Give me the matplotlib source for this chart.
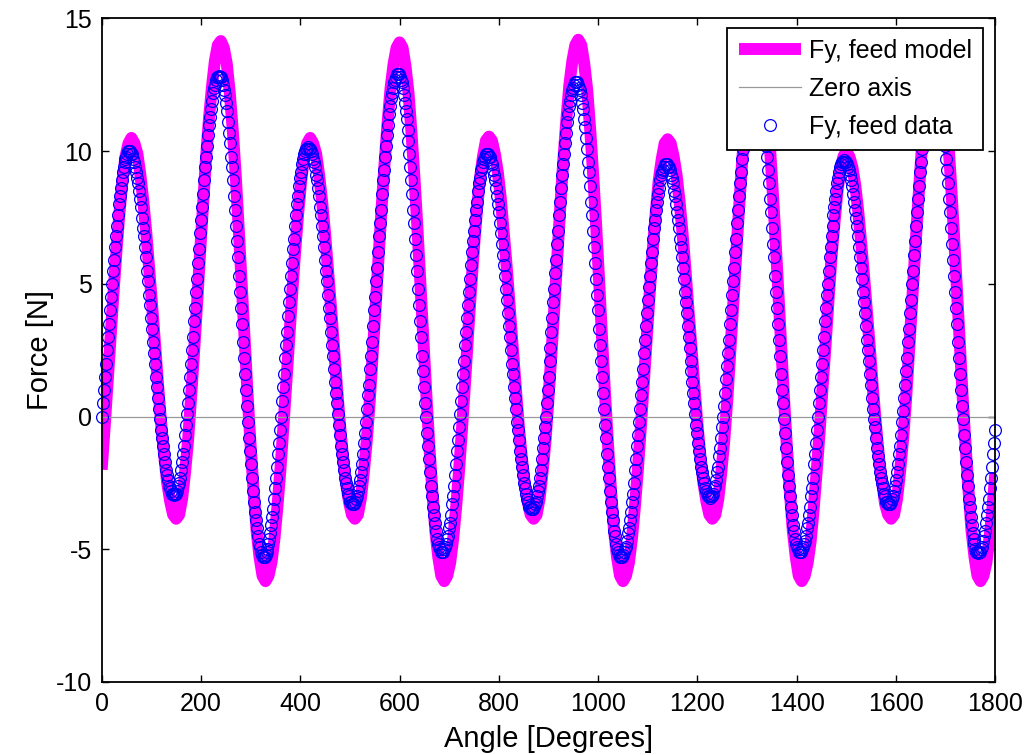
import numpy as np
import matplotlib
matplotlib.use("Agg")
import matplotlib.pyplot as plt

plt.rcParams["font.family"] = ["Liberation Sans", "DejaVu Sans"]
plt.rcParams["axes.unicode_minus"] = False

# Measured force data, one sample every 2 degrees (0 .. 1800)
data_angle = np.arange(0, 1801, 2)
data_force = [
    0.0, 0.5, 1.0, 1.5, 2.0, 2.5, 3.0, 3.5, 4.0, 4.5, 5.0, 5.5, 5.9, 6.4, 6.8, 7.2, 7.6, 8.0, 8.3, 8.6, 8.9, 9.2, 9.4, 9.6, 9.7, 9.8, 9.9, 10.0, 10.0,
    10.0, 9.9, 9.9, 9.7, 9.6, 9.4, 9.2, 9.0, 8.8, 8.5, 8.2, 7.9, 7.5, 7.1, 6.8, 6.4, 6.0, 5.5, 5.1, 4.6, 4.2, 3.7, 3.3, 2.8, 2.4, 2.0, 1.5, 1.1, 0.7, 0.3, -0.1, -0.5, -0.8, -1.1, -1.4, -1.7, -2.0, -2.2, -2.4, -2.6, -2.7, -2.8, -2.9, -2.9, -2.95,
    -2.9, -2.9, -2.8, -2.6, -2.5, -2.3, -2.0, -1.7, -1.4, -1.1, -0.7, -0.3, 0.1, 0.5, 1.0, 1.5, 2.0, 2.5, 3.0, 3.6, 4.1, 4.7, 5.2, 5.8, 6.3, 6.9, 7.4, 7.9, 8.4, 8.9, 9.4, 9.8, 10.2, 10.6, 11.0, 11.3, 11.6, 11.9, 12.2, 12.4, 12.5, 12.7, 12.8, 12.8, 12.85,
    12.8, 12.8, 12.7, 12.5, 12.3, 12.1, 11.8, 11.5, 11.1, 10.7, 10.3, 9.8, 9.4, 8.9, 8.3, 7.8, 7.2, 6.6, 6.0, 5.3, 4.7, 4.1, 3.5, 2.8, 2.2, 1.6, 1.0, 0.4, -0.2, -0.8, -1.3, -1.8, -2.3, -2.8, -3.2, -3.6, -3.9, -4.2, -4.5, -4.8, -4.9, -5.1, -5.2, -5.3, -5.3,
    -5.3, -5.2, -5.1, -5.0, -4.8, -4.6, -4.4, -4.1, -3.8, -3.5, -3.1, -2.7, -2.3, -1.9, -1.4, -1.0, -0.5, 0.0, 0.6, 1.1, 1.6, 2.2, 2.7, 3.2, 3.8, 4.3, 4.8, 5.3, 5.8, 6.3, 6.7, 7.2, 7.6, 8.0, 8.3, 8.7, 9.0, 9.2, 9.5, 9.7, 9.9, 10.0, 10.1, 10.1, 10.15,
    10.1, 10.1, 10.0, 9.9, 9.7, 9.6, 9.4, 9.1, 8.9, 8.6, 8.3, 7.9, 7.6, 7.2, 6.8, 6.4, 5.9, 5.5, 5.1, 4.6, 4.1, 3.7, 3.2, 2.7, 2.3, 1.8, 1.3, 0.9, 0.5, 0.1, -0.3, -0.7, -1.1, -1.4, -1.7, -2.0, -2.3, -2.5, -2.7, -2.9, -3.0, -3.2, -3.2, -3.3, -3.3,
    -3.3, -3.2, -3.1, -3.0, -2.8, -2.6, -2.4, -2.1, -1.8, -1.4, -1.0, -0.6, -0.2, 0.3, 0.8, 1.2, 1.8, 2.3, 2.8, 3.4, 4.0, 4.5, 5.1, 5.6, 6.2, 6.8, 7.3, 7.8, 8.4, 8.9, 9.3, 9.8, 10.2, 10.6, 11.0, 11.4, 11.7, 12.0, 12.2, 12.4, 12.6, 12.7, 12.8, 12.9, 12.9,
    12.9, 12.8, 12.7, 12.6, 12.4, 12.1, 11.8, 11.5, 11.2, 10.8, 10.4, 9.9, 9.4, 8.9, 8.4, 7.8, 7.3, 6.7, 6.1, 5.5, 4.8, 4.2, 3.6, 3.0, 2.3, 1.7, 1.1, 0.5, 0.0, -0.6, -1.1, -1.6, -2.1, -2.6, -3.0, -3.4, -3.7, -4.0, -4.3, -4.6, -4.8, -4.9, -5.0, -5.1, -5.1,
    -5.1, -5.0, -4.9, -4.8, -4.6, -4.5, -4.2, -4.0, -3.7, -3.3, -3.0, -2.6, -2.2, -1.8, -1.3, -0.9, -0.4, 0.1, 0.6, 1.1, 1.6, 2.1, 2.7, 3.2, 3.7, 4.2, 4.7, 5.2, 5.7, 6.2, 6.6, 7.0, 7.4, 7.8, 8.1, 8.5, 8.8, 9.0, 9.3, 9.4, 9.6, 9.7, 9.8, 9.9, 9.9,
    9.9, 9.8, 9.8, 9.6, 9.5, 9.3, 9.1, 8.9, 8.6, 8.3, 8.0, 7.7, 7.3, 6.9, 6.5, 6.1, 5.7, 5.3, 4.8, 4.4, 3.9, 3.4, 3.0, 2.5, 2.0, 1.6, 1.1, 0.7, 0.3, -0.2, -0.5, -0.9, -1.3, -1.6, -1.9, -2.2, -2.5, -2.7, -2.9, -3.1, -3.2, -3.4, -3.4, -3.5, -3.5,
    -3.5, -3.4, -3.3, -3.2, -3.0, -2.8, -2.6, -2.3, -2.0, -1.6, -1.2, -0.8, -0.4, 0.0, 0.5, 1.0, 1.5, 2.1, 2.6, 3.2, 3.7, 4.3, 4.8, 5.4, 5.9, 6.5, 7.0, 7.6, 8.1, 8.6, 9.1, 9.5, 9.9, 10.3, 10.7, 11.1, 11.4, 11.7, 11.9, 12.1, 12.3, 12.4, 12.5, 12.6, 12.6,
    12.6, 12.5, 12.4, 12.3, 12.1, 11.8, 11.6, 11.2, 10.9, 10.5, 10.1, 9.6, 9.2, 8.7, 8.1, 7.6, 7.0, 6.4, 5.8, 5.2, 4.6, 4.0, 3.3, 2.7, 2.1, 1.5, 0.9, 0.3, -0.3, -0.8, -1.4, -1.9, -2.3, -2.8, -3.2, -3.6, -3.9, -4.3, -4.5, -4.8, -5.0, -5.1, -5.2, -5.3, -5.3,
    -5.3, -5.2, -5.1, -5.0, -4.9, -4.7, -4.4, -4.2, -3.9, -3.6, -3.2, -2.9, -2.5, -2.0, -1.6, -1.1, -0.7, -0.2, 0.3, 0.8, 1.3, 1.8, 2.4, 2.9, 3.4, 3.9, 4.4, 4.9, 5.3, 5.8, 6.2, 6.7, 7.1, 7.4, 7.8, 8.1, 8.4, 8.6, 8.9, 9.1, 9.2, 9.3, 9.4, 9.5, 9.5,
    9.5, 9.4, 9.4, 9.3, 9.1, 9.0, 8.8, 8.5, 8.3, 8.0, 7.7, 7.4, 7.1, 6.7, 6.4, 6.0, 5.6, 5.2, 4.7, 4.3, 3.9, 3.4, 3.0, 2.6, 2.1, 1.7, 1.3, 0.9, 0.5, 0.1, -0.3, -0.6, -1.0, -1.3, -1.6, -1.9, -2.1, -2.3, -2.5, -2.7, -2.8, -2.9, -3.0, -3.0, -3.05,
    -3.0, -3.0, -2.9, -2.7, -2.6, -2.4, -2.1, -1.9, -1.5, -1.2, -0.8, -0.4, 0.0, 0.4, 0.9, 1.4, 1.9, 2.4, 2.9, 3.5, 4.0, 4.6, 5.1, 5.6, 6.2, 6.7, 7.3, 7.8, 8.3, 8.8, 9.2, 9.7, 10.1, 10.5, 10.9, 11.2, 11.5, 11.8, 12.0, 12.2, 12.4, 12.5, 12.6, 12.7, 12.7,
    12.7, 12.6, 12.5, 12.4, 12.2, 11.9, 11.7, 11.3, 11.0, 10.6, 10.2, 9.8, 9.3, 8.8, 8.2, 7.7, 7.1, 6.5, 6.0, 5.3, 4.7, 4.1, 3.5, 2.9, 2.3, 1.6, 1.0, 0.5, -0.1, -0.6, -1.2, -1.7, -2.2, -2.6, -3.0, -3.4, -3.7, -4.1, -4.3, -4.6, -4.8, -4.9, -5.0, -5.1, -5.1,
    -5.1, -5.0, -4.9, -4.8, -4.7, -4.5, -4.2, -4.0, -3.7, -3.4, -3.0, -2.7, -2.3, -1.8, -1.4, -1.0, -0.5, 0.0, 0.5, 1.0, 1.5, 2.0, 2.5, 3.0, 3.6, 4.1, 4.6, 5.0, 5.5, 6.0, 6.4, 6.8, 7.2, 7.6, 7.9, 8.2, 8.5, 8.8, 9.0, 9.2, 9.4, 9.5, 9.6, 9.6, 9.65,
    9.6, 9.6, 9.5, 9.4, 9.3, 9.1, 8.9, 8.7, 8.4, 8.1, 7.8, 7.5, 7.2, 6.8, 6.4, 6.0, 5.6, 5.2, 4.7, 4.3, 3.9, 3.4, 2.9, 2.5, 2.1, 1.6, 1.2, 0.7, 0.3, -0.1, -0.4, -0.8, -1.2, -1.5, -1.8, -2.1, -2.3, -2.5, -2.7, -2.9, -3.0, -3.2, -3.2, -3.3, -3.3,
    -3.3, -3.2, -3.1, -3.0, -2.8, -2.6, -2.4, -2.1, -1.8, -1.4, -1.1, -0.7, -0.2, 0.2, 0.7, 1.2, 1.7, 2.2, 2.8, 3.3, 3.9, 4.4, 5.0, 5.5, 6.1, 6.6, 7.2, 7.7, 8.2, 8.7, 9.2, 9.6, 10.1, 10.5, 10.8, 11.2, 11.5, 11.8, 12.0, 12.2, 12.4, 12.5, 12.6, 12.7, 12.7,
    12.7, 12.6, 12.5, 12.4, 12.2, 11.9, 11.7, 11.3, 11.0, 10.6, 10.2, 9.7, 9.3, 8.8, 8.2, 7.7, 7.1, 6.5, 5.9, 5.3, 4.7, 4.1, 3.5, 2.8, 2.2, 1.6, 1.0, 0.4, -0.1, -0.7, -1.2, -1.7, -2.2, -2.6, -3.1, -3.4, -3.8, -4.1, -4.4, -4.6, -4.8, -5.0, -5.1, -5.1, -5.15,
    -5.1, -5.1, -5.0, -4.9, -4.7, -4.5, -4.3, -4.0, -3.7, -3.4, -3.1, -2.7, -2.3, -1.9, -1.4, -1.0, -0.5,
]

# Model force, one value every 6 degrees (0 .. 1800)
model_angle = np.arange(0, 1801, 6)
model_force = [
    -2.0, -0.4, 1.3, 3.0, 4.7, 6.3, 7.7, 8.9, 9.8, 10.3, 10.5,
    10.3, 9.9, 9.1, 8.1, 6.9, 5.5, 4.1, 2.6, 1.1, -0.3, -1.5, -2.5, -3.2, -3.7, -3.85,
    -3.7, -3.1, -2.1, -0.9, 0.7, 2.4, 4.2, 6.1, 7.9, 9.7, 11.2, 12.4, 13.4, 14.0, 14.15,
    13.9, 13.3, 12.2, 10.8, 9.1, 7.1, 5.0, 2.9, 0.8, -1.1, -2.8, -4.3, -5.3, -6.0, -6.2,
    -6.0, -5.5, -4.6, -3.4, -2.0, -0.4, 1.3, 3.0, 4.7, 6.3, 7.7, 8.9, 9.8, 10.3, 10.5,
    10.3, 9.9, 9.1, 8.1, 6.9, 5.5, 4.1, 2.6, 1.1, -0.3, -1.5, -2.5, -3.2, -3.7, -3.85,
    -3.7, -3.1, -2.1, -0.9, 0.6, 2.4, 4.2, 6.1, 7.9, 9.6, 11.1, 12.4, 13.3, 13.9, 14.1,
    13.9, 13.2, 12.2, 10.7, 9.0, 7.1, 5.0, 2.9, 0.8, -1.1, -2.8, -4.3, -5.3, -6.0, -6.2,
    -6.0, -5.5, -4.6, -3.4, -2.0, -0.4, 1.3, 3.1, 4.8, 6.4, 7.8, 9.0, 9.8, 10.4, 10.55,
    10.4, 9.9, 9.2, 8.2, 6.9, 5.6, 4.1, 2.6, 1.1, -0.3, -1.5, -2.5, -3.2, -3.7, -3.85,
    -3.7, -3.1, -2.1, -0.9, 0.7, 2.4, 4.2, 6.1, 8.0, 9.7, 11.2, 12.5, 13.4, 14.0, 14.2,
    14.0, 13.3, 12.3, 10.8, 9.1, 7.2, 5.1, 2.9, 0.8, -1.1, -2.8, -4.3, -5.3, -6.0, -6.2,
    -6.0, -5.5, -4.6, -3.4, -2.0, -0.4, 1.3, 3.0, 4.7, 6.3, 7.7, 8.9, 9.7, 10.3, 10.45,
    10.3, 9.8, 9.1, 8.1, 6.9, 5.5, 4.0, 2.6, 1.1, -0.3, -1.5, -2.5, -3.2, -3.7, -3.85,
    -3.7, -3.1, -2.1, -0.9, 0.6, 2.4, 4.2, 6.1, 7.9, 9.6, 11.1, 12.4, 13.3, 13.9, 14.1,
    13.9, 13.2, 12.2, 10.7, 9.0, 7.1, 5.0, 2.9, 0.8, -1.1, -2.8, -4.3, -5.3, -6.0, -6.2,
    -6.0, -5.5, -4.7, -3.5, -2.1, -0.6, 1.1, 2.7, 4.4, 6.0, 7.3, 8.5, 9.3, 9.8, 10.0,
    9.8, 9.4, 8.7, 7.7, 6.5, 5.2, 3.8, 2.4, 0.9, -0.4, -1.6, -2.5, -3.3, -3.7, -3.85,
    -3.7, -3.1, -2.1, -0.9, 0.6, 2.4, 4.2, 6.1, 7.9, 9.6, 11.1, 12.4, 13.3, 13.9, 14.1,
    13.9, 13.2, 12.2, 10.7, 9.0, 7.1, 5.0, 2.9, 0.8, -1.1, -2.8, -4.3, -5.3, -6.0, -6.2,
    -6.0, -5.5, -4.6, -3.5, -2.1,
]

zero_angle = [0, 1800]
zero_force = [0, 0]

x_ticks = [0, 200, 400, 600, 800, 1000, 1200, 1400, 1600, 1800]
y_ticks = [-10, -5, 0, 5, 10, 15]

fig = plt.figure(figsize=(10.29, 7.55), dpi=100)
ax = fig.add_axes([0.0988, 0.0967, 0.8685, 0.8788])

ax.plot(model_angle, model_force, color="#ff00ff", lw=8.6,
        solid_capstyle="butt", solid_joinstyle="round", label="Fy, feed model")
ax.plot(zero_angle, zero_force, color="#999999", lw=0.9, label="Zero axis")
ax.plot(data_angle, data_force, "o", mfc="none", mec="#0000ff", ms=8.5,
        mew=0.9, clip_on=False, label="Fy, feed data")

ax.set_xlim(0, 1800)
ax.set_ylim(-10, 15)
ax.set_xticks(x_ticks)
ax.set_yticks(y_ticks)
ax.tick_params(direction="in", top=True, right=True, length=5, width=1,
               labelsize=18, pad=7)
for side in ax.spines.values():
    side.set_linewidth(1.3)

ax.set_xlabel("Angle [Degrees]", fontsize=21, labelpad=7)
ax.set_ylabel("Force [N]", fontsize=21, labelpad=1)

leg = ax.legend(loc="upper right", bbox_to_anchor=(0.986, 0.986),
                borderaxespad=0, fontsize=18, fancybox=False, framealpha=1,
                edgecolor="black", numpoints=1, handlelength=2.5,
                handletextpad=0.3, borderpad=0.45, labelspacing=0.55)
leg.get_frame().set_linewidth(1.3)

fig.savefig("out.png", dpi=100)
plt.close(fig)
